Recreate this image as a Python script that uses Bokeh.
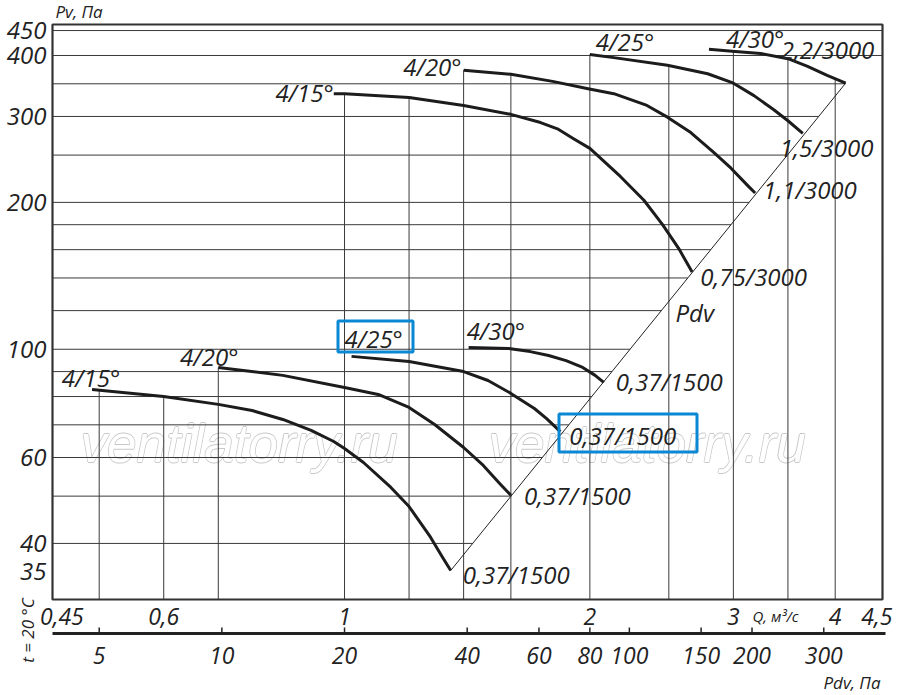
import numpy as np
from bokeh.plotting import figure
from bokeh.models import Range1d, BoxAnnotation
from bokeh.core.properties import value
from bokeh.embed import file_html
from bokeh.resources import INLINE

FONT = "Open Sans"
TXT = "#222222"

# ---------------- data ----------------
q_range = (0.4382, 4.572)      # Q, m3/s  (inner chart frame)
pv_range = (30.7, 463.0)       # Pv, Pa   (inner chart frame)
K_PDV = 20.0                   # Pdv = K_PDV * Q^2

q_ticks = [0.45, 0.6, 1, 2, 3, 4, 4.5]
pv_ticks = [35, 40, 60, 100, 200, 300, 400, 450]
pdv_ticks = [5, 10, 20, 40, 60, 80, 100, 150, 200, 300]
pv_grid = [450, 400, 350, 300, 250, 200, 180, 160, 140, 120, 100, 90, 80, 70, 60, 50, 40]
q_grid = [0.5, 0.6, 0.7, 1.0, 1.2, 1.4, 1.6, 2.0, 2.5, 3.0, 3.5, 4.0]

# 3000 rpm curves
a_q = [0.97, 1.0, 1.2, 1.4, 1.6, 1.74, 1.825, 1.91, 2.0, 2.18, 2.33, 2.456, 2.57, 2.67]
a_pv = [334, 334, 328, 316, 303, 291.5, 283, 270, 258, 226, 202, 180, 161, 144]
b_q = [1.40, 1.60, 1.80, 1.99, 2.14, 2.35, 2.49, 2.66, 2.84, 2.98, 3.12, 3.19]
b_pv = [373, 366, 354, 342, 334, 316, 299, 278, 253, 235, 217, 209]
c_q = [2.0, 2.14, 2.49, 2.79, 2.99, 3.18, 3.36, 3.50, 3.65]
c_pv = [402, 396, 382, 367, 352, 331, 310, 294, 277]
d_q = [2.80, 2.99, 3.24, 3.50, 3.70, 3.91, 4.12]
d_pv = [412, 408, 404, 394, 380, 364, 351]

# 1500 rpm curves
e_q = [0.49, 0.60, 0.70, 0.77, 0.84, 0.91, 0.97, 1.0, 1.055, 1.14, 1.20, 1.275, 1.32, 1.35]
e_pv = [82.7, 80.0, 77.1, 74.9, 71.8, 68.2, 64.7, 62.6, 58.6, 52.1, 47.6, 41.2, 37.4, 35.2]
f_q = [0.70, 0.84, 1.0, 1.10, 1.20, 1.29, 1.40, 1.48, 1.55, 1.60]
f_pv = [91.8, 88.4, 83.5, 80.8, 76.0, 70.1, 62.9, 57.8, 53.1, 50.2]
h_q = [1.02, 1.20, 1.40, 1.50, 1.60, 1.71, 1.77, 1.84]
h_pv = [96.7, 94.4, 90.0, 86.3, 81.2, 75.6, 72.1, 67.8]
g_q = [1.42, 1.59, 1.69, 1.78, 1.87, 1.96, 2.03, 2.08]
g_pv = [100.8, 100.4, 98.9, 97.1, 94.8, 91.8, 88.4, 85.5]

curves = [(a_q, a_pv), (b_q, b_pv), (c_q, c_pv), (d_q, d_pv),
          (e_q, e_pv), (f_q, f_pv), (h_q, h_pv), (g_q, g_pv)]

# ---------------- layout (pixels) ----------------
W, H = 898, 693
FL, FR, FT, FB = 52, 882, 24, 599          # inner chart frame on the canvas
Q0, Q1 = q_range
P0, P1 = pv_range
PPX = (FR - FL) / np.log10(Q1 / Q0)
PPY = (FB - FT) / np.log10(P1 / P0)


def q_px(x):
    return Q0 * 10 ** ((x - FL) / PPX)


def pv_px(y):
    return P0 * 10 ** ((FB - y) / PPY)


p = figure(width=W, height=H, x_axis_type="log", y_axis_type="log",
           x_range=Range1d(q_px(0), q_px(W)), y_range=Range1d(pv_px(H), pv_px(0)),
           output_backend="svg", toolbar_location=None, title=None,
           x_axis_location=None, y_axis_location=None, min_border=0)
p.xgrid.visible = False
p.ygrid.visible = False
p.outline_line_color = None
p.background_fill_color = "white"
p.border_fill_color = "white"


def txt(x, y, t, size, align="left", baseline="middle", dx=0, dy=0, angle=0.0,
        font=FONT, color=TXT, style="italic"):
    p.text(x=x, y=y, text=t, x_offset=dx, y_offset=dy, angle=angle,
           text_align=align, text_baseline=baseline, text_font=value(font),
           text_font_style=style, text_font_size=size, text_color=color)


# ---------------- watermark ----------------
wm_q = [q_px(80), q_px(488)]
wm_pv = [pv_px(443), pv_px(443)]
for dx, dy in [(-0.8, 0), (0.8, 0), (0, -0.8), (0, 0.8)]:
    txt(wm_q, wm_pv, ["ventilatorry.ru"] * 2, "53px", baseline="alphabetic",
        dx=dx, dy=dy, font="Liberation Sans", color="#c8c8c8")
txt(wm_q, wm_pv, ["ventilatorry.ru"] * 2, "53px", baseline="alphabetic",
    font="Liberation Sans", color="white")

# ---------------- grid ----------------
lq1, lp1 = np.log10(e_q[-1]), np.log10(e_pv[-1])
lq2, lp2 = np.log10(d_q[-1]), np.log10(d_pv[-1])
slope = (lp2 - lp1) / (lq2 - lq1)


def q_on_pdv_line(pv):
    return 10 ** (lq1 + (np.log10(pv) - lp1) / slope)


hx1 = [q_on_pdv_line(pv) if pv <= d_pv[-1] else Q1 for pv in pv_grid]
p.segment(x0=[Q0] * len(pv_grid), y0=pv_grid, x1=hx1, y1=pv_grid,
          line_color="#3a3a3a", line_width=1)


def envelope(q):
    tops = []
    for cq, cpv in curves:
        if cq[0] - 1e-9 <= q <= cq[-1] + 1e-9:
            tops.append(10 ** np.interp(np.log10(q), np.log10(cq), np.log10(cpv)))
    return max(tops) if tops else P1


p.segment(x0=q_grid, y0=[P0] * len(q_grid), x1=q_grid, y1=[envelope(q) for q in q_grid],
          line_color="#3a3a3a", line_width=1)

# Pdv line
p.line([e_q[-1], d_q[-1]], [e_pv[-1], d_pv[-1]], line_color="#222222", line_width=1)

# ---------------- curves ----------------
for cq, cpv in curves:
    p.line(cq, cpv, line_color="#1c1c1c", line_width=3, line_cap="butt", line_join="round")

# chart frame
p.quad(left=[Q0], right=[Q1], bottom=[P0], top=[P1], fill_color=None,
       line_color="#333333", line_width=2.2)

# ---------------- axes: tick labels ----------------
txt([Q0] * len(pv_ticks), pv_ticks, [str(v) for v in pv_ticks], "24px",
    align="right", dx=-6)
txt(q_ticks, [P0] * len(q_ticks), [str(v).replace(".", ",") for v in q_ticks], "23px",
    align="center", dy=17)

# Pdv scale below
y_pdv = pv_px(633)
pdv_q = [np.sqrt(v / K_PDV) for v in pdv_ticks]
p.segment(x0=[Q0], y0=[y_pdv], x1=[q_px(885)], y1=[y_pdv], line_color="#222222", line_width=3)
p.segment(x0=pdv_q, y0=[y_pdv] * len(pdv_q), x1=pdv_q, y1=[pv_px(627)] * len(pdv_q),
          line_color="#222222", line_width=1.5)
txt(pdv_q, [y_pdv] * len(pdv_q), [str(v) for v in pdv_ticks], "23px",
    align="center", dy=22)

# axis captions
txt([q_px(55)], [pv_px(11)], ["Pv, Па"], "17px")
txt([q_px(752)], [pv_px(615)], ["Q, м³/с"], "15px")
txt([q_px(880)], [pv_px(682)], ["Pdv, Па"], "17px", align="right")
txt([q_px(27)], [pv_px(630)], ["t = 20 °C"], "17px", align="center", angle=np.pi / 2)

# ---------------- curve labels ----------------
labels = [
    ("4/15°", a_q[0], a_pv[0], "right", 0, -1),
    ("4/20°", b_q[0], b_pv[0], "right", -2, -4),
    ("4/25°", c_q[0], c_pv[0], "left", 6, -13),
    ("4/30°", d_q[0], d_pv[0], "left", 17, -11),
    ("2,2/3000", d_q[-1], d_pv[-1], "left", -65, -34),
    ("1,5/3000", c_q[-1], c_pv[-1], "left", -23, 14),
    ("1,1/3000", b_q[-1], b_pv[-1], "left", 8, -4),
    ("0,75/3000", a_q[-1], a_pv[-1], "left", 8, 5),
    ("4/15°", e_q[0], e_pv[0], "center", -1, -12),
    ("4/20°", f_q[0], f_pv[0], "center", -9, -11),
    ("4/25°", h_q[0], h_pv[0], "left", -7, -18),
    ("4/30°", g_q[0], g_pv[0], "left", -2, -17),
    ("0,37/1500", g_q[-1], g_pv[-1], "left", 12, -1),
    ("0,37/1500", h_q[-1], h_pv[-1], "left", 9, 4),
    ("0,37/1500", f_q[-1], f_pv[-1], "left", 13, 0),
    ("0,37/1500", e_q[-1], e_pv[-1], "left", 12, 4),
    ("Pdv", q_px(675), pv_px(312), "left", 0, 0),
]
for t, x, y, al, dx, dy in labels:
    txt([x], [y], [t], "24px", align=al, dx=dx, dy=dy)

# highlight boxes
BLUE = "#0a88d4"
p.add_layout(BoxAnnotation(left=q_px(337.5), right=q_px(412.5), bottom=pv_px(351.5),
                           top=pv_px(320.5), fill_alpha=0, line_color=BLUE,
                           line_alpha=1, line_width=3))
p.add_layout(BoxAnnotation(left=q_px(558.5), right=q_px(696.5), bottom=pv_px(451.5),
                           top=pv_px(413.5), fill_alpha=0, line_color=BLUE,
                           line_alpha=1, line_width=3))

open("out.html", "w").write(file_html(p, INLINE))
